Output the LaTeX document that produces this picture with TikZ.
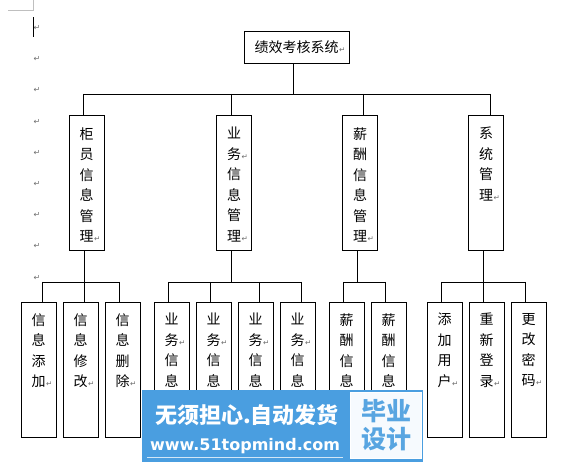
\documentclass[tikz,border=0pt]{standalone}
\usepackage{fontspec}
\newfontfamily\cjk{Noto Sans CJK SC}
\newfontfamily\dv{DejaVu Sans}
\definecolor{wmblue}{RGB}{74,158,224}
\definecolor{wmtext}{RGB}{88,165,225}
\definecolor{wmlight}{RGB}{246,250,254}
\definecolor{pmgray}{RGB}{110,110,110}
\newcommand{\retmark}{\rlap{\kern0.6pt{\dv\fontsize{7.5}{7.5}\selectfont\color{pmgray}↵}}}
\begin{document}
\begin{tikzpicture}[x=1pt,y=-1pt,
  conn/.style={line width=0.9pt},
  topbox/.style={draw,line width=0.9pt,inner sep=0pt,minimum width=105pt,minimum height=32pt,
    font=\cjk\fontsize{14}{16}\selectfont},
  vbox/.style={draw,line width=0.9pt,inner sep=0pt,minimum width=35pt,minimum height=135pt},
  vtxt/.style={font=\cjk\fontsize{14}{20.5}\selectfont,align=center,inner sep=0pt,anchor=north},
  pmark/.style={font=\dv\fontsize{8}{8}\selectfont,text=pmgray,inner sep=0pt}]
\useasboundingbox (0,0) rectangle (565,462);
\fill[white] (0,0) rectangle (565,462);

% page corner mark, cursor and paragraph marks
\draw[gray!50,line width=0.7pt] (8,10) -- (33,10) -- (33,0);
\foreach \k in {0,...,8} \node[pmark] (p\k) at (37,{28+31.2*\k}) {↵};
\fill (32.6,17) rectangle (34.4,37);

% top
\node[topbox] (top) at (296.5,47) {绩效考核系统\retmark};

% middle level
\node[vbox] (m1) at (86.5,182.5) {};
\node[vbox] (m2) at (234,182.5) {};
\node[vbox] (m3) at (360,182.5) {};
\node[vbox] (m4) at (486,182.5) {};
\node[vtxt] (m1t) at ([yshift=-12.5pt]m1.north) {柜\\员\\信\\息\\管\\理\retmark};
\node[vtxt] (m2t) at ([yshift=-12.5pt]m2.north) {业\\务\retmark\\信\\息\\管\\理\retmark};
\node[vtxt] (m3t) at ([yshift=-12.5pt]m3.north) {薪\\酬\\信\\息\\管\\理\retmark};
\node[vtxt] (m4t) at ([yshift=-12.5pt]m4.north) {系\\统\\管\\理\retmark};

% leaves
\foreach \n/\x in {l11/38.5,l12/80.5,l13/122.5,l21/171.5,l22/213.5,l23/255.5,l24/297.5,
                   l31/346.5,l32/388.5,l41/444.5,l42/486.5,l43/528.5}
  \node[vbox] (\n) at (\x,369.5) {};
\node[vtxt] (l11t) at ([yshift=-11.5pt]l11.north) {信\\息\\添\\加\retmark};
\node[vtxt] (l12t) at ([yshift=-11.5pt]l12.north) {信\\息\\修\\改\retmark};
\node[vtxt] (l13t) at ([yshift=-11.5pt]l13.north) {信\\息\\删\\除\retmark};
\node[vtxt] (l21t) at ([yshift=-11.5pt]l21.north) {业\\务\retmark\\信\\息};
\node[vtxt] (l22t) at ([yshift=-11.5pt]l22.north) {业\\务\retmark\\信\\息};
\node[vtxt] (l23t) at ([yshift=-11.5pt]l23.north) {业\\务\retmark\\信\\息};
\node[vtxt] (l24t) at ([yshift=-11.5pt]l24.north) {业\\务\retmark\\信\\息};
\node[vtxt] (l31t) at ([yshift=-11.5pt]l31.north) {薪\\酬\\信\\息};
\node[vtxt] (l32t) at ([yshift=-11.5pt]l32.north) {薪\\酬\\信\\息};
\node[vtxt] (l41t) at ([yshift=-11.5pt]l41.north) {添\\加\\用\\户\retmark};
\node[vtxt] (l42t) at ([yshift=-11.5pt]l42.north) {重\\新\\登\\录\retmark};
\node[vtxt] (l43t) at ([yshift=-11.5pt]l43.north) {更\\改\\密\\码\retmark};

% upper connectors
\coordinate (bus0) at (293,94);
\coordinate (b1) at (83,94);
\coordinate (b2) at (231,94);
\coordinate (b3) at (363,94);
\coordinate (b4) at (490,94);
\draw[conn] (top.south -| bus0) -- (bus0);
\draw[conn] (b1) -- (b4);
\foreach \i in {1,...,4} \draw[conn] (b\i) -- (b\i |- m\i.north);

% lower connectors
\coordinate (t1) at (84,282);
\coordinate (t2) at (231,282);
\coordinate (t3) at (357,282);
\coordinate (t4) at (483,282);
\foreach \i in {1,...,4} \draw[conn] (m\i.south -| t\i) -- (t\i);
\foreach \n/\x in {11/42,12/84,13/119,21/168,22/210,23/259,24/301,31/343,32/385,41/441,42/483,43/525}
  \coordinate (c\n) at (\x,282);
\draw[conn] (c11) -- (c13);
\draw[conn] (c21) -- (c24);
\draw[conn] (c31) -- (c32);
\draw[conn] (c41) -- (c43);
\foreach \n in {11,12,13,21,22,23,24,31,32,41,42,43}
  \draw[conn] (c\n) -- (c\n |- l\n.north);

% watermark banner
\fill[wmblue] (142,390) rectangle (423,462);
\node[draw=white,line width=1pt,fill=wmlight,minimum width=71pt,minimum height=66pt,inner sep=0pt] (wmbox) at (386,425.5) {};
\node[font=\cjk\bfseries\fontsize{22}{24}\selectfont,text=white,inner sep=0pt] (wm1) at (247,415) {无须担心.自动发货};
\node[font=\dv\bfseries\fontsize{16}{18}\selectfont,text=white,inner sep=0pt] (wm2) at (245,446) {www.51topmind.com};
\draw[white!75!wmblue,line width=0.8pt] (147,457) -- (343,457);
\node[font=\cjk\bfseries\fontsize{25}{28}\selectfont,text=wmtext,align=center,inner sep=0pt] (wm3) at (wmbox.center) {毕业\\设计};
\end{tikzpicture}
\end{document}
